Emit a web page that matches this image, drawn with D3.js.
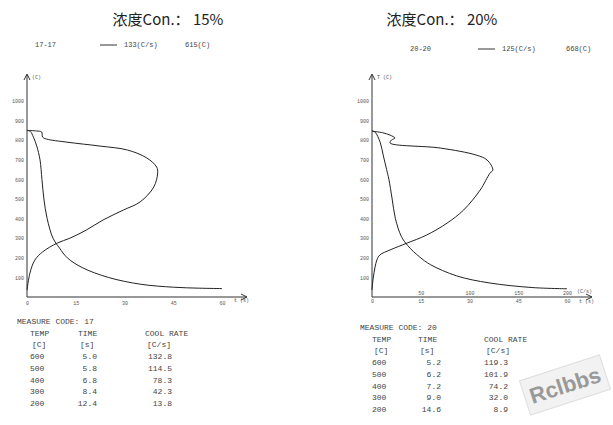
<!DOCTYPE html>
<html><head><meta charset="utf-8">
<script src="https://cdn.jsdelivr.net/npm/d3@7"></script>
<style>body{margin:0;background:#fff}text{font-family:"Liberation Mono",monospace}</style>
</head><body><svg id="c" width="613" height="425"></svg>
<script>
const yTicks=[0,100,200,300,400,500,600,700,800,900,1000];
const tTicks=[0,15,30,45,60];
const rateTicks=[50,100,150,200];
// chart 1 (15%)
const temp1=[[0,850],[1,845],[2,815],[3,770],[4,700],[4.6,600],[5.2,500],[6.2,400],[8,300],[10,250],[12.4,200],[17,150],[25,100],[35,65],[45,50],[53,45],[60,43]];
const rate1=[[0,35],[3,122],[8,188],[16,230],[31,275],[44,300],[61,342],[78,393],[99,444],[116,485],[130,561],[134,632],[133,663],[123,709],[103,750],[75,770],[41,790],[20,806],[16,816],[15,842],[10,847],[0,850]];
// chart 2 (20%)
const temp2=[[0,848],[1,840],[2.5,790],[3.5,720],[4.5,650],[5.2,600],[6.2,500],[7.2,400],[9,310],[11,262],[14.6,205],[18,165],[26,108],[36,72],[49.5,48],[60,42]];
const rate2=[[0,36],[1.4,102],[5,189],[8,214],[18.5,240],[36,275],[56,316],[77,377],[94,444],[111,546],[121,632],[124,648],[118,699],[107,724],[70,760],[18.5,786],[20,801],[23.6,811],[18.5,826],[11,838],[0,846]];
const tables=[
 {code:"17",rows:[["600","5.0","132.8"],["500","5.8","114.5"],["400","6.8","78.3"],["300","8.4","42.3"],["200","12.4","13.8"]]},
 {code:"20",rows:[["600","5.2","119.3"],["500","6.2","101.9"],["400","7.2","74.2"],["300","9.0","32.0"],["200","14.6","8.9"]]}];
const titles=["浓度Con.： 15%","浓度Con.： 20%"];
const legends=[["17-17","133(C/s)","615(C)"],["20-20","125(C/s)","668(C)"]];

const svg=d3.select("#c");
const cfg=[
 {x0:27,temp:temp1,rate:rate1,tc:168,ly:47,lx:[35,100,124,185],rateLab:false,yl:"(C)",tb:{x:17,y:321,cols:[30,78,145],ends:[97,172]}},
 {x0:372,temp:temp2,rate:rate2,tc:442,ly:51,lx:[410,478,502,566],rateLab:true,yl:"T (C)",tb:{x:360,y:327,cols:[372,418,484],ends:[441,508]}}];
cfg.forEach((c,i)=>{
 const g=svg.append("g");
 const x=d3.scaleLinear().domain([0,60]).range([c.x0,c.x0+195]);
 const xr=d3.scaleLinear().domain([0,200]).range([c.x0,c.x0+195]);
 const y=d3.scaleLinear().domain([0,1000]).range([297,101]);
 g.append("text").attr("x",c.tc).attr("y",25).attr("text-anchor","middle").attr("font-size",15).style("font-family","'Noto Sans CJK SC',sans-serif").attr("fill","#222").text(titles[i]);
 const L=legends[i];
 g.append("text").attr("x",c.lx[0]).attr("y",c.ly).attr("font-size",7).attr("fill","#444").text(L[0]);
 g.append("line").attr("x1",c.lx[1]).attr("x2",c.lx[1]+17).attr("y1",c.ly-2).attr("y2",c.ly-2).attr("stroke","#333");
 g.append("text").attr("x",c.lx[2]).attr("y",c.ly).attr("font-size",7).attr("fill","#444").text(L[1]);
 g.append("text").attr("x",c.lx[3]).attr("y",c.ly).attr("font-size",7).attr("fill","#444").text(L[2]);
 g.append("line").attr("x1",c.x0).attr("x2",c.x0).attr("y1",297).attr("y2",75).attr("stroke","#333");
 g.append("path").attr("d",`M${c.x0-3},80L${c.x0},74L${c.x0+3},80`).attr("fill","none").attr("stroke","#333");
 g.append("line").attr("x1",c.x0).attr("x2",c.x0+220).attr("y1",297).attr("y2",297).attr("stroke","#333");
 g.append("path").attr("d",`M${c.x0+214},294L${c.x0+220},297L${c.x0+214},300`).attr("fill","none").attr("stroke","#333");
 g.append("text").attr("x",c.x0+5).attr("y",79).attr("font-size",5).attr("fill","#555").text(c.yl);
 const ya=d3.axisLeft(y).tickValues(yTicks.slice(1)).tickSize(0).tickPadding(3).tickFormat(d3.format("d"));
 g.append("g").attr("transform",`translate(${c.x0},0)`).call(ya).call(s=>{s.select(".domain").remove();s.selectAll("text").attr("font-size",5).attr("fill","#555").style("font-family","Liberation Mono");});
 const xa=d3.axisBottom(x).tickValues(tTicks).tickSize(0).tickPadding(c.rateLab?2:4);
 g.append("g").attr("transform",`translate(0,297)`).call(xa).call(s=>{s.select(".domain").remove();s.selectAll("text").attr("font-size",5).attr("fill","#555").style("font-family","Liberation Mono");});
 g.append("text").attr("x",c.x0+207).attr("y",c.rateLab?303:302).attr("font-size",5).attr("fill","#555").text("t (s)");
 if(c.rateLab){
  const ra=d3.axisTop(xr).tickValues(rateTicks).tickSize(0).tickPadding(1);
  g.append("g").attr("transform",`translate(0,296)`).call(ra).call(s=>{s.select(".domain").remove();s.selectAll("text").attr("font-size",5).attr("fill","#555").style("font-family","Liberation Mono");});
  g.append("text").attr("x",c.x0+205).attr("y",293).attr("font-size",5).attr("fill","#555").text("(C/s)");
 }
 const lt=d3.line().x(d=>x(d[0])).y(d=>y(d[1])).curve(d3.curveCatmullRom);
 const lr=d3.line().x(d=>xr(d[0])).y(d=>y(d[1])).curve(d3.curveCatmullRom);
 g.append("path").attr("d",lt(c.temp)).attr("fill","none").attr("stroke","#222").attr("stroke-width",1);
 g.append("path").attr("d",lr(c.rate)).attr("fill","none").attr("stroke","#222").attr("stroke-width",1);
 const t=tables[i],tb=c.tb,dy=11.7;
 const ft=s=>s.attr("font-size",8).attr("fill","#444");
 g.append("text").attr("x",tb.x).attr("y",tb.y+3).call(ft).text("MEASURE CODE: "+t.code);
 [["TEMP","TIME","COOL RATE"],["[C]","[s]","[C/s]"]].forEach((r,j)=>r.forEach((v,k)=>g.append("text").attr("x",tb.cols[k]+(j==1?2:0)).attr("y",tb.y+3+dy*(j+1)).call(ft).text(v)));
 t.rows.forEach((r,j)=>{
  const yy=tb.y+3+dy*(j+3);
  g.append("text").attr("x",tb.cols[0]).attr("y",yy).call(ft).text(r[0]);
  g.append("text").attr("x",tb.ends[0]).attr("y",yy).attr("text-anchor","end").call(ft).text(r[1]);
  g.append("text").attr("x",tb.ends[1]).attr("y",yy).attr("text-anchor","end").call(ft).text(r[2]);
 });
});
const wm=svg.append("g").attr("transform","translate(565,385) rotate(-18)");
wm.append("rect").attr("x",-42).attr("y",-18).attr("width",84).attr("height",36).attr("fill","#f2f2f2").attr("stroke","#ddd");
wm.append("text").attr("text-anchor","middle").attr("y",8).attr("font-size",22).attr("font-weight","bold").style("font-family","Liberation Sans").attr("fill","#999").text("Rclbbs");
</script></body></html>
